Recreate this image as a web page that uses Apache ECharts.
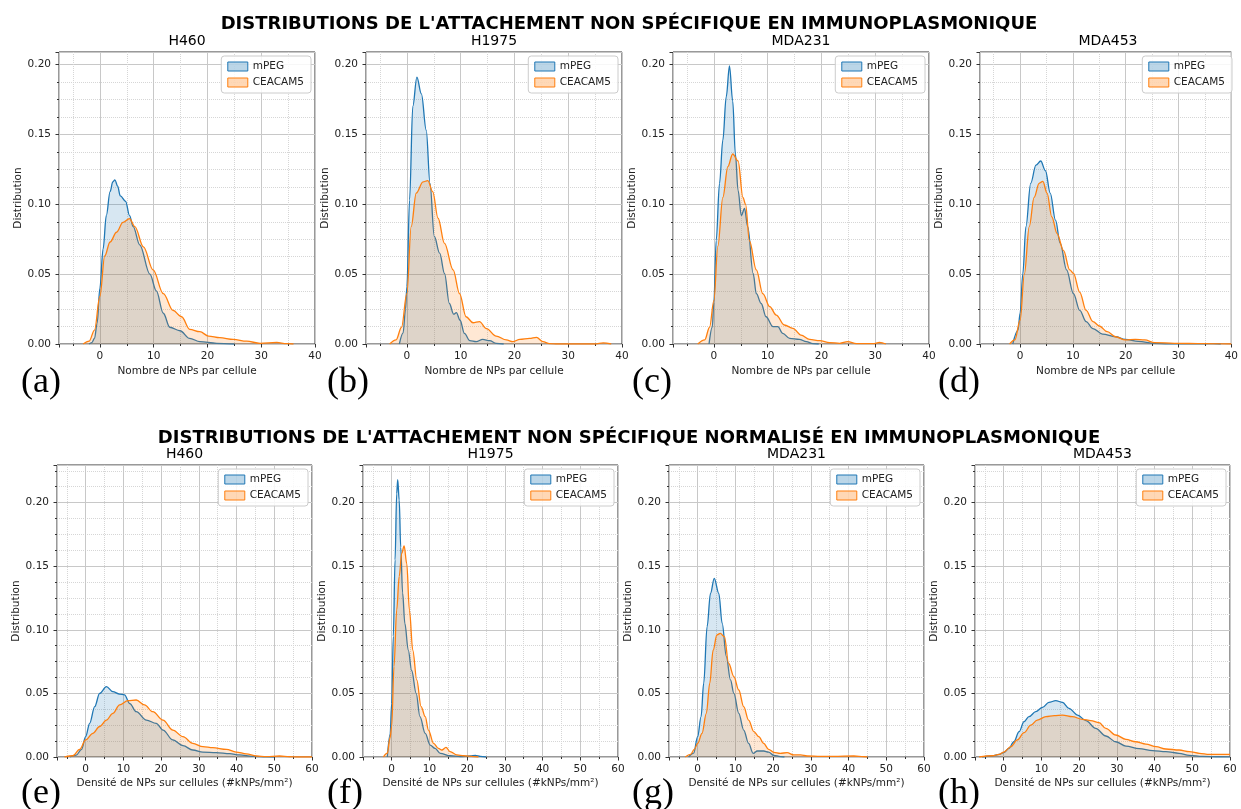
<!DOCTYPE html>
<html>
<head>
<meta charset="utf-8">
<script src="https://cdn.jsdelivr.net/npm/echarts@6/dist/echarts.min.js"></script>
<style>
html, body { margin: 0; padding: 0; background: #fff; }
#chart { width: 1241px; height: 809px; }
</style>
</head>
<body>
<div id="chart"></div>
<script>
// titles / labels
const titleTop = "DISTRIBUTIONS DE L'ATTACHEMENT NON SPÉCIFIQUE EN IMMUNOPLASMONIQUE"
const titleBottom = "DISTRIBUTIONS DE L'ATTACHEMENT NON SPÉCIFIQUE NORMALISÉ EN IMMUNOPLASMONIQUE"
const cells = ['H460', 'H1975', 'MDA231', 'MDA453']
const tagsTop = ['(a)', '(b)', '(c)', '(d)']
const tagsBottom = ['(e)', '(f)', '(g)', '(h)']
const groups = ['mPEG', 'CEACAM5']

// KDE curves, [x, density]
// row 1 : Nombre de NPs par cellule
const h460Mpeg = [[-2, 0], [-1.5, 0.001], [-1, 0.004], [-0.5, 0.015], [0, 0.04], [0.6, 0.068], [1.2, 0.092], [1.9, 0.109], [2.4, 0.116], [2.8, 0.1175], [3.3, 0.113], [3.8, 0.106], [4.8, 0.102], [5.5, 0.092], [6.2, 0.084], [7.4, 0.071], [9.3, 0.05], [10.5, 0.038], [11.8, 0.022], [13, 0.012], [14.9, 0.0095], [16.7, 0.004], [18.6, 0.0017], [21.7, 0.0005], [25, 0]]
const h460Ceacam = [[-3.1, 0], [-2, 0.002], [-1, 0.01], [0, 0.034], [0.9, 0.063], [1.9, 0.073], [3.1, 0.08], [4.3, 0.087], [5.5, 0.0898], [6.5, 0.084], [8.1, 0.0695], [9.9, 0.053], [11.8, 0.036], [13.6, 0.024], [15.2, 0.0195], [16.7, 0.0105], [18.6, 0.0088], [20.2, 0.0057], [22.3, 0.0045], [24.8, 0.0033], [27.3, 0.002], [29.8, 0.0005], [32.9, 0.0012], [34.7, 0.0002], [36, 0]]
const h1975Mpeg = [[-1.4, 0], [-0.7, 0.008], [-0.25, 0.025], [0, 0.041], [0.5, 0.103], [1.1, 0.17], [1.86, 0.191], [2.7, 0.179], [3.6, 0.153], [4.3, 0.115], [5.1, 0.077], [6.1, 0.065], [7, 0.0505], [7.9, 0.029], [8.7, 0.0214], [9.2, 0.0224], [9.9, 0.017], [10.7, 0.0076], [11.7, 0.0024], [12.9, 0.0017], [14.1, 0.0033], [15.4, 0.0024], [16.6, 0.0005], [18, 0]]
const h1975Ceacam = [[-3.2, 0], [-2, 0.003], [-1, 0.012], [0, 0.036], [0.8, 0.084], [1.74, 0.108], [3, 0.116], [3.9, 0.117], [4.8, 0.109], [5.8, 0.09], [7, 0.072], [8.6, 0.053], [9.8, 0.036], [11, 0.0195], [12.3, 0.0152], [13.5, 0.016], [14.8, 0.011], [16.6, 0.0057], [18.5, 0.0029], [19.7, 0.0017], [21, 0.0033], [22.8, 0.004], [24.1, 0.0048], [25.3, 0.0017], [26.5, 0.0003], [28, 0], [35, 0], [36.5, 0.0008], [38, 0]]
const mda231Mpeg = [[-0.9, 0], [-0.3, 0.012], [0, 0.03], [0.43, 0.074], [1.05, 0.115], [1.67, 0.146], [2.3, 0.177], [2.9, 0.199], [3.5, 0.174], [4, 0.136], [4.5, 0.11], [5.1, 0.092], [5.7, 0.097], [6.3, 0.084], [7.3, 0.0505], [7.9, 0.036], [8.8, 0.029], [9.7, 0.0195], [11, 0.0124], [11.9, 0.0124], [12.8, 0.0076], [14.1, 0.004], [15.9, 0.0033], [17.2, 0.0017], [18.4, 0.0003], [19.5, 0]]
const mda231Ceacam = [[-3, 0], [-1.7, 0.003], [-0.8, 0.012], [0, 0.031], [0.74, 0.07], [1.67, 0.105], [2.6, 0.127], [3.5, 0.136], [4.5, 0.131], [5.4, 0.105], [5.9, 0.1], [6.6, 0.074], [7.9, 0.053], [9.1, 0.036], [10.4, 0.0267], [11.6, 0.0207], [13.1, 0.0136], [14.7, 0.0112], [16.2, 0.0064], [17.8, 0.0033], [19.7, 0.0024], [21.5, 0.001], [23.4, 0.0005], [24.9, 0.0017], [26.5, 0.0002], [29.6, 0.0002], [30.8, 0.0012], [32, 0]]
const mda453Mpeg = [[-1.4, 0], [-0.4, 0.01], [0, 0.022], [0.5, 0.05], [1.1, 0.084], [2, 0.115], [3, 0.128], [3.9, 0.131], [4.8, 0.124], [5.7, 0.108], [6.7, 0.0886], [7.6, 0.072], [8.8, 0.053], [10.1, 0.036], [11.3, 0.024], [12.5, 0.016], [13.8, 0.011], [15.6, 0.0071], [18.1, 0.0052], [19.9, 0.0033], [22.4, 0.0019], [25.5, 0.0005], [28, 0.0001], [35, 0.0001], [36.6, 0.0003], [38, 0]]
const mda453Ceacam = [[-2, 0], [-1, 0.003], [0, 0.017], [0.8, 0.05], [1.73, 0.084], [2.65, 0.105], [3.6, 0.115], [4.3, 0.1164], [5.1, 0.108], [6, 0.091], [7, 0.079], [8.2, 0.067], [9.4, 0.053], [10.1, 0.0505], [11.3, 0.037], [12.5, 0.024], [13.8, 0.016], [15, 0.0129], [16.5, 0.0088], [18.1, 0.0052], [19.9, 0.0029], [21.8, 0.0033], [23.6, 0.0029], [25.5, 0.001], [29.2, 0.0005], [34.8, 0.0002], [40, 0]]

// row 2 : Densité de NPs sur cellules
const h460DensMpeg = [[-4.2, 0], [-2.5, 0.0015], [-1.1, 0.006], [0, 0.016], [1.06, 0.0265], [2.4, 0.0396], [3.7, 0.05], [5.5, 0.0553], [7.2, 0.0514], [9, 0.0495], [10.3, 0.0488], [11.7, 0.042], [13.4, 0.0356], [16.1, 0.029], [18.7, 0.0265], [20.5, 0.0212], [23.1, 0.0134], [25.8, 0.0089], [28.4, 0.0055], [31.1, 0.0039], [34.6, 0.0034], [38.2, 0.0026], [40.8, 0.0016], [44.3, 0.0005], [47.9, 0.0001], [50, 0]]
const h460DensCeacam = [[-5.6, 0], [-3.4, 0.001], [-1.6, 0.006], [0, 0.0134], [1.9, 0.0186], [3.7, 0.024], [5.5, 0.029], [7.2, 0.0343], [9, 0.041], [11.2, 0.0443], [13.4, 0.0448], [15.6, 0.041], [17.8, 0.0356], [20.5, 0.029], [23.1, 0.0212], [25.8, 0.016], [28.4, 0.0107], [31.1, 0.0081], [33.7, 0.0073], [37.3, 0.006], [39.9, 0.0039], [42.6, 0.0024], [45.2, 0.0008], [47.9, 0.0003], [51.4, 0.0008], [54, 0.0002], [56, 0], [60, 0]]
const h1975DensMpeg = [[-1.15, 0], [-0.4, 0.018], [0, 0.042], [0.44, 0.095], [0.9, 0.155], [1.33, 0.207], [1.6, 0.218], [2, 0.202], [2.4, 0.165], [2.9, 0.129], [3.5, 0.105], [4.4, 0.084], [5.3, 0.068], [6.5, 0.05], [7.5, 0.0317], [8.9, 0.0186], [10.2, 0.0094], [11.5, 0.0068], [12.9, 0.0029], [15.5, 0.001], [18.2, 0.0003], [20.8, 0.0008], [22.2, 0.0013], [23.5, 0.0005], [25, 0]]
const h1975DensCeacam = [[-2.2, 0], [-1.15, 0.003], [-0.44, 0.015], [0, 0.024], [0.62, 0.071], [1.33, 0.1156], [2, 0.142], [2.66, 0.16], [3.3, 0.166], [4, 0.152], [4.7, 0.1156], [5.6, 0.084], [6.65, 0.0606], [7.8, 0.0396], [8.9, 0.0317], [9.75, 0.0212], [11.1, 0.0107], [12.4, 0.0068], [13.3, 0.0055], [14.4, 0.0076], [15.5, 0.0042], [17.3, 0.0016], [19.1, 0.001], [21.7, 0.0003], [23, 0]]
const mda231DensMpeg = [[-2.4, 0], [-1.06, 0.003], [0, 0.016], [0.9, 0.0317], [1.6, 0.058], [2.5, 0.1025], [3.4, 0.1287], [4.4, 0.1405], [5.6, 0.1287], [6.5, 0.105], [7.6, 0.079], [8.7, 0.0606], [9.6, 0.05], [10.9, 0.0343], [12.2, 0.0212], [13.5, 0.0107], [14.7, 0.0029], [15.8, 0.0047], [17.5, 0.0047], [18.8, 0.0039], [20.2, 0.0013], [21.9, 0.0003], [23, 0]]
const mda231DensCeacam = [[-3.3, 0], [-1.9, 0.002], [-0.9, 0.006], [0, 0.0107], [1.15, 0.0186], [2.3, 0.0343], [3.2, 0.058], [4.1, 0.084], [5.1, 0.096], [6, 0.0972], [7.1, 0.0946], [8.2, 0.0737], [9.6, 0.0632], [10.9, 0.0527], [12.2, 0.0396], [13.5, 0.029], [14.9, 0.0199], [16.2, 0.016], [17.5, 0.0107], [18.8, 0.006], [20.2, 0.0037], [21.9, 0.0029], [23.7, 0.0034], [25.5, 0.0016], [27.3, 0.0016], [29, 0.0008], [32.6, 0.0005], [36.1, 0.0005], [41.4, 0.0008], [44.1, 0.0002], [45, 0]]
const mda453DensMpeg = [[-5.7, 0], [-3, 0.0008], [-1.2, 0.002], [0, 0.0034], [1.4, 0.0068], [2.7, 0.012], [4.1, 0.0199], [5.4, 0.0278], [6.7, 0.0317], [8.5, 0.0356], [10.3, 0.039], [12, 0.043], [13.8, 0.0443], [15.6, 0.043], [17.3, 0.0383], [19.6, 0.033], [21.8, 0.0286], [24.4, 0.0225], [27.1, 0.0165], [29.7, 0.012], [32.4, 0.0086], [35.9, 0.0066], [39.5, 0.005], [43, 0.0042], [46.5, 0.0029], [49.2, 0.0013], [52.7, 0.0005], [57.2, 0.0002], [60, 0.0001]]
const mda453DensCeacam = [[-6.5, 0], [-3, 0.001], [-1.2, 0.002], [0, 0.0039], [1.9, 0.0081], [3.6, 0.0134], [5.4, 0.0191], [7.2, 0.025], [8.9, 0.029], [11.2, 0.0317], [13.4, 0.0325], [15.6, 0.033], [18.2, 0.0317], [20.9, 0.0296], [23.1, 0.0286], [25.3, 0.027], [27.1, 0.0225], [29.7, 0.0173], [32.4, 0.0139], [35, 0.012], [37.7, 0.0102], [40.4, 0.0081], [43, 0.0063], [46.5, 0.0055], [49.2, 0.0042], [51.9, 0.0029], [54.5, 0.0021], [60, 0.0021]]

const curvesTop = [[h460Mpeg, h460Ceacam], [h1975Mpeg, h1975Ceacam], [mda231Mpeg, mda231Ceacam], [mda453Mpeg, mda453Ceacam]]
const curvesBottom = [[h460DensMpeg, h460DensCeacam], [h1975DensMpeg, h1975DensCeacam], [mda231DensMpeg, mda231DensCeacam], [mda453DensMpeg, mda453DensCeacam]]

const colors = ['#1f77b4', '#ff7f0e']
const fills = ['rgba(31,119,180,0.25)', 'rgba(255,127,14,0.25)']
const font = 'DejaVu Sans'
const W = 1241

const rows = [
  { title: titleTop, titleY: 24, subY: 41, tags: tagsTop, tagY: 383, curves: curvesTop,
    xName: 'Nombre de NPs par cellule', xMin: -7.6, xMax: 40, yMax: 0.209,
    lefts: [59, 366, 673, 980], top: 52, width: 256, height: 292, nameGap: 22 },
  { title: titleBottom, titleY: 438, subY: 454, tags: tagsBottom, tagY: 794, curves: curvesBottom,
    xName: 'Densité de NPs sur cellules (#kNPs/mm²)', xMin: -7.6, xMax: 60, yMax: 0.2296,
    lefts: [57, 363, 669, 975], top: 465, width: 255, height: 292, nameGap: 21 }
]
const tagLefts = [21, 327, 632, 938]

const grid = []
const xAxis = []
const yAxis = []
const series = []
const legend = []
const graphic = []

const legendData = groups.map((g, k) => ({
  name: g,
  icon: 'rect',
  itemStyle: { color: fills[k].replace('0.25', '0.3'), borderColor: colors[k], borderWidth: 1 }
}))

rows.forEach((row, r) => {
  graphic.push({
    type: 'text', x: 629, y: row.titleY,
    style: { text: row.title, font: 'bold 18px "DejaVu Sans"', fill: '#000', align: 'center', verticalAlign: 'middle' }
  })
  row.lefts.forEach((left, c) => {
    const idx = grid.length
    grid.push({
      left: left, top: row.top, width: row.width, height: row.height,
      show: true, borderColor: '#333', borderWidth: 1, backgroundColor: 'transparent'
    })
    xAxis.push({
      type: 'value', gridIndex: idx, min: row.xMin, max: row.xMax,
      minInterval: 10, maxInterval: 10,
      name: row.xName, nameLocation: 'middle', nameGap: row.nameGap,
      nameTextStyle: { fontFamily: font, fontSize: 10.5, color: '#222' },
      axisLine: { show: false, onZero: false },
      axisTick: { show: true, length: 3.5, lineStyle: { color: '#333' } },
      minorTick: { show: true, splitNumber: 2, length: 2, lineStyle: { color: '#333' } },
      axisLabel: { showMinLabel: false, margin: 7, fontFamily: font, fontSize: 10.5, color: '#222' },
      splitLine: { show: true, lineStyle: { color: '#c8c8c8', width: 1 } },
      minorSplitLine: { show: true, lineStyle: { color: '#d6d6d6', type: 'dotted', width: 1 } }
    })
    yAxis.push({
      type: 'value', gridIndex: idx, min: 0, max: row.yMax,
      minInterval: 0.05, maxInterval: 0.05,
      name: 'Distribution', nameLocation: 'middle', nameGap: 34,
      nameTextStyle: { fontFamily: font, fontSize: 10.5, color: '#222' },
      axisLine: { show: false, onZero: false },
      axisTick: { show: true, length: 3.5, lineStyle: { color: '#333' } },
      minorTick: { show: true, splitNumber: 4, length: 2, lineStyle: { color: '#333' } },
      axisLabel: { showMaxLabel: false, margin: 8, fontFamily: font, fontSize: 10.5, color: '#222',
        formatter: v => v.toFixed(2) },
      splitLine: { show: true, lineStyle: { color: '#c8c8c8', width: 1 } },
      minorSplitLine: { show: true, lineStyle: { color: '#d6d6d6', type: 'dotted', width: 1 } }
    })
    row.curves[c].forEach((pts, k) => {
      series.push({
        name: groups[k], type: 'line', xAxisIndex: idx, yAxisIndex: idx,
        data: pts, smooth: 0.35, smoothMonotone: 'x', showSymbol: false, silent: true,
        color: colors[k],
        lineStyle: { color: colors[k], width: 1.3 },
        areaStyle: { color: fills[k] },
        z: 2 + k
      })
    })
    legend.push({
      data: legendData, orient: 'vertical',
      right: W - (left + row.width) + 4, top: row.top + 4,
      itemWidth: 20, itemHeight: 9, itemGap: 5, padding: [5, 7, 5, 6],
      backgroundColor: 'rgba(255,255,255,0.85)', borderColor: '#cccccc', borderWidth: 1, borderRadius: 3,
      textStyle: { fontFamily: font, fontSize: 10.5, color: '#222' },
      selectedMode: false
    })
    graphic.push({
      type: 'text', x: left + row.width / 2, y: row.subY,
      style: { text: cells[c], font: '14px "DejaVu Sans"', fill: '#000', align: 'center', verticalAlign: 'middle' }
    })
    graphic.push({
      type: 'text', x: tagLefts[c], y: row.tagY,
      style: { text: row.tags[c], font: '36px "Liberation Serif"', fill: '#000', align: 'left', verticalAlign: 'middle' }
    })
  })
})

const chart = echarts.init(document.getElementById('chart'))
chart.setOption({
  animation: false,
  backgroundColor: '#fff',
  grid, xAxis, yAxis, series, legend, graphic
})
window.addEventListener('resize', function() {
  chart.resize()
})
</script>
</body>
</html>
